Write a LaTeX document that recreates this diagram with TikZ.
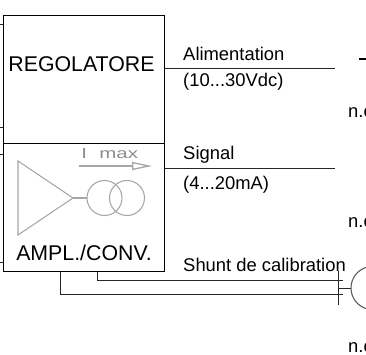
\documentclass[tikz,border=0pt]{standalone}
\usepackage{fontspec}
\setmainfont{Liberation Sans}
\usetikzlibrary{arrows.meta}
\tikzset{
  block/.style={draw,thick,minimum width=4.835cm,inner sep=0pt,outer sep=0pt},
  bigtxt/.style={anchor=base,inner sep=0pt,font=\fontsize{18.2}{18}\selectfont},
  txt/.style={anchor=base west,inner sep=0pt,font=\fontsize{15.7}{16}\selectfont},
  wire/.style={draw=black!85,line width=0.75pt},
  faint/.style={draw=black!35,line width=0.9pt},
  coil/.style={circle,faint,minimum size=1.05cm,inner sep=0pt,outer sep=0pt}
}
\begin{document}
\begin{tikzpicture}
\useasboundingbox (0,0) rectangle (10.98,10.62);
\node[block,minimum height=3.84cm] (reg) at (2.5175,8.25) {};
\node[block,minimum height=3.855cm] (ampl) at (2.5175,4.4025) {};
\node[bigtxt] (regtxt) at (2.445,8.469) {REGOLATORE};
\node[bigtxt] (ampltxt) at (2.52,2.811) {AMPL./CONV.};
\coordinate (stubA) at (0,9.9);
\coordinate (stubB) at (0,6.81);
\coordinate (stubC) at (0,6);
\coordinate (stubD) at (0,2.76);
\draw[wire] (stubA) -- (reg.west |- stubA);
\draw[wire] (stubB) -- (reg.west |- stubB);
\draw[wire] (stubC) -- (ampl.west |- stubC);
\draw[wire] (stubD) -- (ampl.west |- stubD);
\coordinate (alim) at (10.05,8.565);
\coordinate (sig) at (10.05,5.571);
\draw[wire] (reg.east |- alim) -- (alim);
\draw[wire] (ampl.east |- sig) -- (sig);
\node[txt] (alimtxt) at (5.49,8.79) {Alimentation};
\node[txt] (alimval) at (5.49,8.01) {(10...30Vdc)};
\node[txt] (sigtxt) at (5.49,5.82) {Signal};
\node[txt] (sigval) at (5.49,4.95) {(4...20mA)};
\node[txt] (shunttxt) at (5.49,2.481) {Shunt de calibration};
\coordinate (shuntA) at (2.91,2.211);
\coordinate (shuntB) at (10.29,2.211);
\coordinate (shuntC) at (1.8,1.791);
\coordinate (shuntD) at (10.29,1.791);
\draw[wire] (ampl.south -| shuntA) -- (shuntA) -- (shuntB);
\draw[wire] (ampl.south -| shuntC) -- (shuntC) -- (shuntD);
\coordinate (tickT) at (10.14,2.481);
\coordinate (tickB) at (10.14,1.461);
\coordinate (plug) at (10.53,1.98);
\draw[wire] (tickT) -- (tickB);
\draw[wire] (tickT |- plug) -- (plug);
\draw[faint,draw=black!65] (plug) arc (180:108:0.648);
\draw[faint,draw=black!65] (plug) arc (180:252:0.648);
\coordinate (minusA) at (10.77,8.85);
\coordinate (minusB) at (10.98,8.85);
\draw[line width=2.4pt] (minusA) -- (minusB);
\node[txt] (nca) at (10.44,7.08) {n.c};
\node[txt] (ncb) at (10.44,3.81) {n.c};
\node[txt] (ncc) at (10.44,0.045) {n.c};
\coordinate (ampA) at (0.54,5.79);
\coordinate (ampB) at (0.54,3.57);
\coordinate (apex) at (2.19,4.68);
\draw[faint] (ampA) -- (apex) -- (ampB) -- cycle;
\node[coil] (coilA) at (3.135,4.68) {};
\node[coil] (coilB) at (3.81,4.68) {};
\draw[faint] (apex) -- (coilA);
\node[txt,text=black!45,font=\fontsize{12.5}{13}\selectfont,xscale=1.4,transform shape] (imax) at (2.43,5.865) {I\hspace{0.6em}max};
\coordinate (arrA) at (2.37,5.64);
\coordinate (arrB) at (4.56,5.64);
\draw[faint,line width=1.1pt,-{Triangle[open,length=0.6cm,width=0.24cm]}] (arrA) -- (arrB);
\end{tikzpicture}
\end{document}
